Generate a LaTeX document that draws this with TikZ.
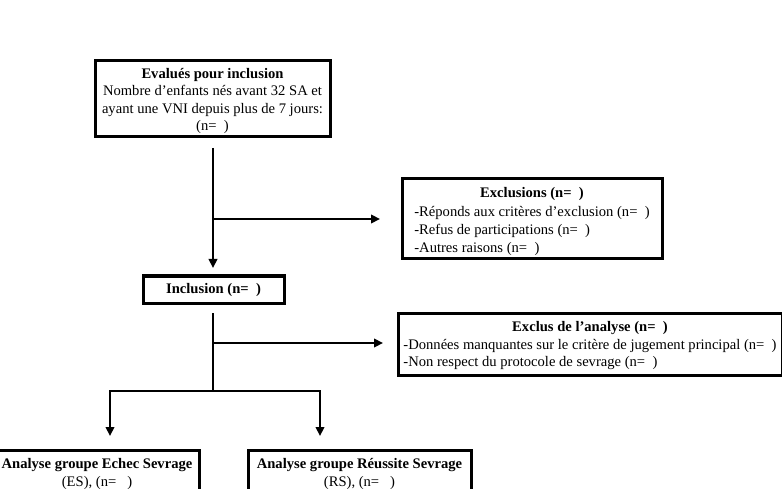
\documentclass[tikz,border=0pt]{standalone}
\usepackage{fontspec}
\setmainfont{Liberation Serif}
\usetikzlibrary{arrows.meta}
\begin{document}
\begin{tikzpicture}[x=1pt,y=-1pt,
  box/.style={draw,line width=3pt,inner sep=0pt,align=center,font=\fontsize{14.6}{17.5}\selectfont},
  conn/.style={line width=2.2pt},
  arr/.style={conn,-{Triangle[length=9pt,width=8.5pt]}}]
\useasboundingbox (0,0) rectangle (782,489);
\clip (0,0) rectangle (782,489);
\node[box,minimum width=235,minimum height=76] (ev) at (212.5,99)
  {\raisebox{-2pt}[\height][\depth]{\begin{tabular}{@{}c@{}}\textbf{Evalués pour inclusion}\\Nombre d’enfants nés avant 32 SA et\\ayant une VNI depuis plus de 7 jours:\\(n=\ \ )\end{tabular}}};
\node[box,minimum width=260,minimum height=80,font=\fontsize{14.6}{18.3}\selectfont] (excl) at (532,219)
  {\raisebox{-2.5pt}[\height][\depth]{\begin{tabular}{@{}l@{}}\multicolumn{1}{@{}c@{}}{\textbf{Exclusions (n=\ \ )}}\\-Réponds aux critères d’exclusion (n=\ \ )\\-Refus de participations (n=\ \ )\\-Autres raisons (n=\ \ )\end{tabular}}};
\node[box,minimum width=141,minimum height=27] (inc) at (213.5,289.5)
  {\textbf{Inclusion (n=\ \ )}};
\node[box,minimum width=384,minimum height=62] (exa) at (590,344)
  {\raisebox{-1.5pt}[\height][\depth]{\begin{tabular}{@{}l@{}}\multicolumn{1}{@{}c@{}}{\textbf{Exclus de l’analyse (n=\ \ )}}\\-Données manquantes sur le critère de jugement principal (n=\ \ )\\-Non respect du protocole de sevrage (n=\ \ )\end{tabular}}};
\node[box,minimum width=204,minimum height=70,anchor=north,text depth=40pt,inner ysep=8pt] (es) at (97,449)
  {\textbf{Analyse groupe Echec Sevrage}\\(ES), (n=\ \ \ )};
\node[box,minimum width=223,minimum height=70,anchor=north,text depth=40pt,inner ysep=8pt] (rs) at (359.5,449)
  {\textbf{Analyse groupe Réussite Sevrage}\\(RS), (n=\ \ \ )};
% connectors
\coordinate (a0) at (213,148);
\coordinate (a1) at (213,268);
\coordinate (b0) at (213,219);
\coordinate (b1) at (380,219);
\coordinate (c0) at (213,313);
\coordinate (c1) at (213,391);
\coordinate (d0) at (213,343);
\coordinate (d1) at (383,343);
\coordinate (l0) at (110,391);
\coordinate (l1) at (110,436);
\coordinate (r0) at (320,391);
\coordinate (r1) at (320,436);
\draw[arr] (a0) -- (a1);
\draw[arr] (b0) -- (b1);
\draw[conn] (c0) -- (c1);
\draw[arr] (d0) -- (d1);
\draw[arr] (c1) -- (l0) -- (l1);
\draw[arr] (c1) -- (r0) -- (r1);
\end{tikzpicture}
\end{document}
